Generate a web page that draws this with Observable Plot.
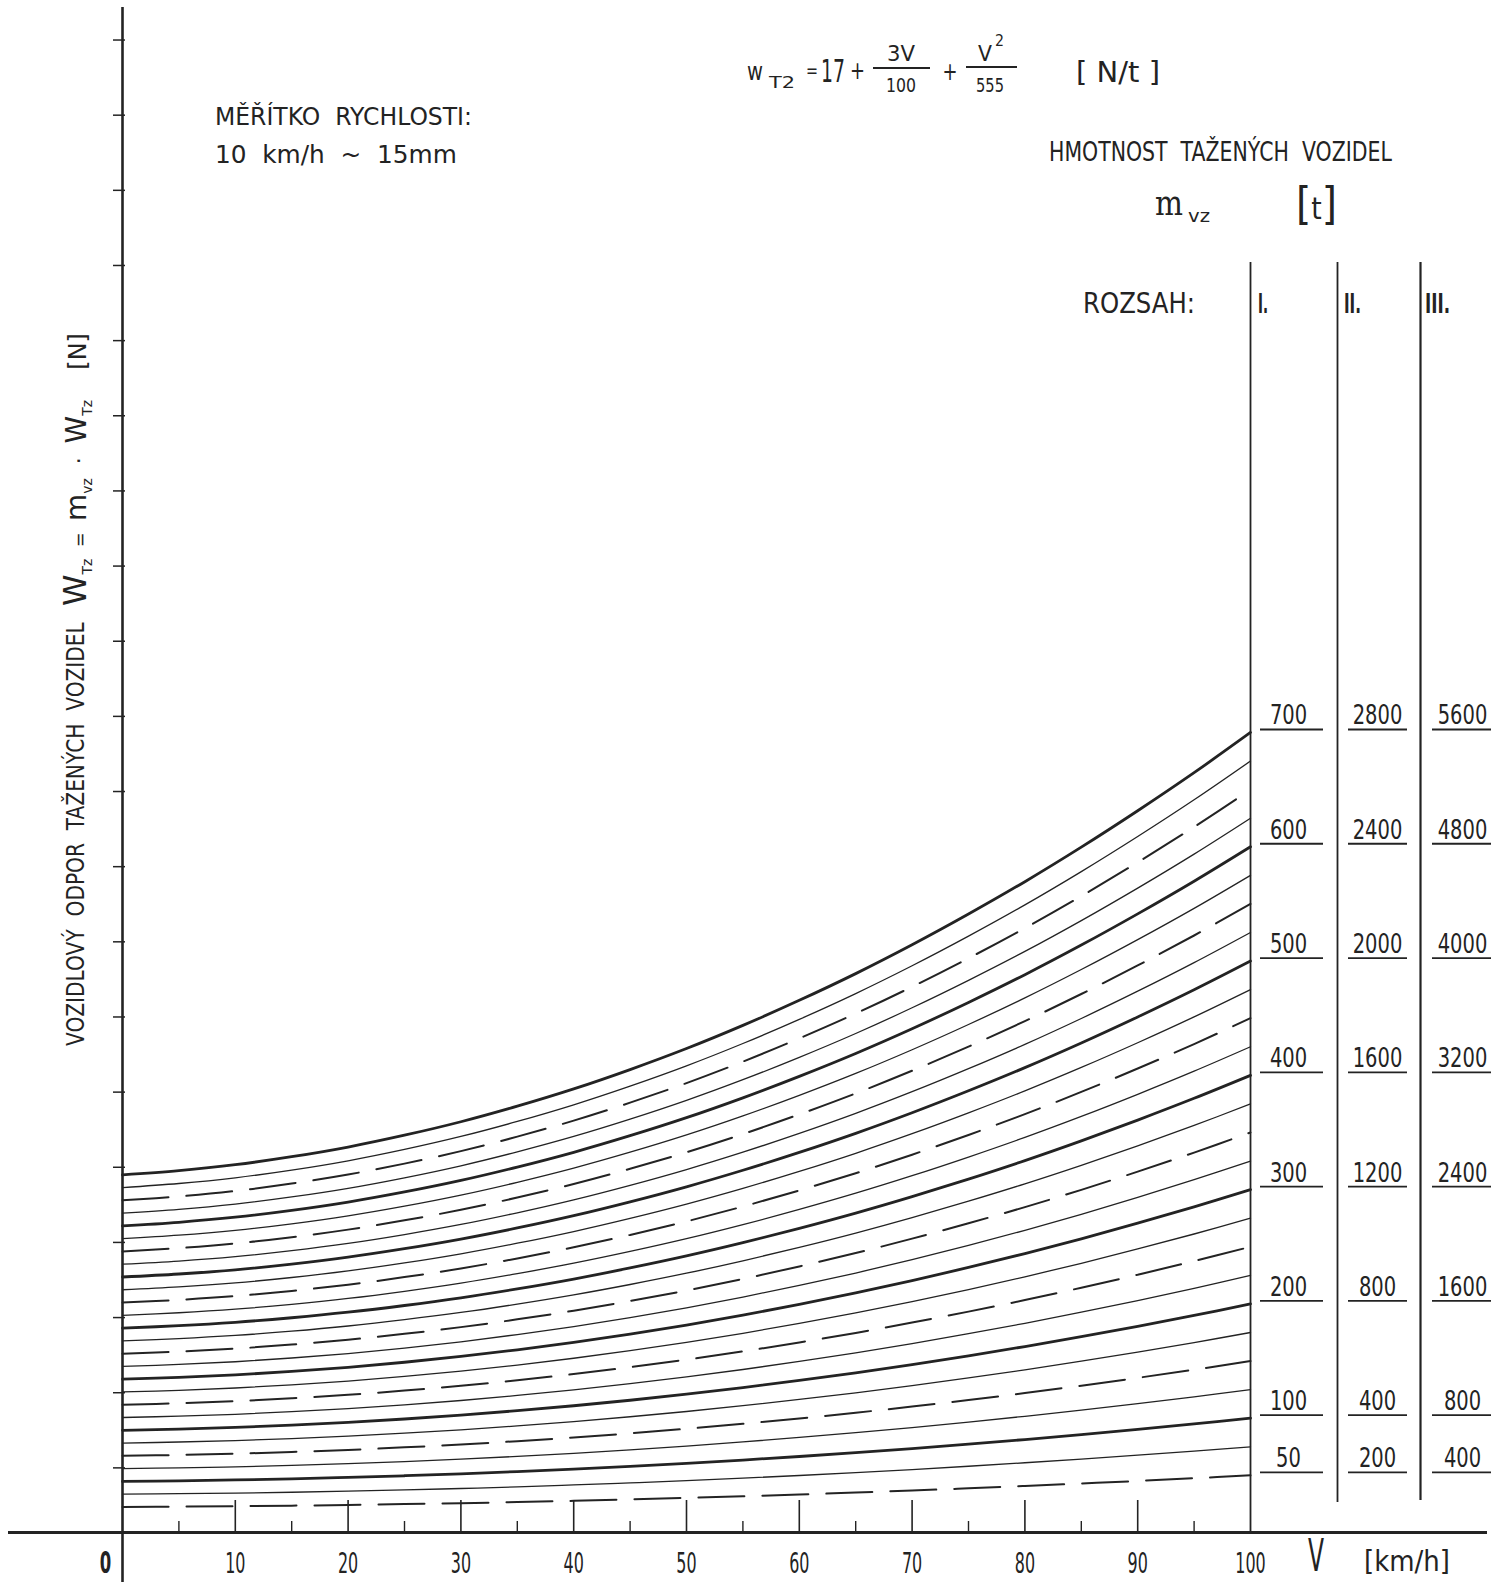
<!DOCTYPE html>
<html>
<head>
<meta charset="utf-8">
<script src="https://cdn.jsdelivr.net/npm/d3@7"></script>
<script src="https://cdn.jsdelivr.net/npm/@observablehq/plot@0.6"></script>
<style>
  html, body { margin: 0; padding: 0; background: #fff; }
  #chart { position: relative; width: 1495px; height: 1582px; overflow: hidden; }
  #chart svg text { font-family: "DejaVu Sans", "Liberation Sans", sans-serif; fill: #232323; white-space: pre; }
</style>
</head>
<body>
<div id="chart"></div>
<script>
// Speed V [km/h]
const speeds = [0, 5, 10, 15, 20, 25, 30, 35, 40, 45, 50, 55, 60, 65, 70, 75, 80, 85, 90, 95, 100];
// Specific resistance of hauled vehicles w_T2 [N/t] at each speed
const resistance = [17.00, 17.20, 17.48, 17.86, 18.32, 18.88, 19.52, 20.26, 21.08, 22.00, 23.00,
                    24.10, 25.29, 26.56, 27.93, 29.39, 30.93, 32.57, 34.30, 36.11, 38.02];
// Mass of the hauled vehicles for each curve [t] (range I)
const masses = [50, 75, 100, 125, 150, 175, 200, 225, 250, 275, 300, 325, 350, 375,
                400, 425, 450, 475, 500, 525, 550, 575, 600, 625, 650, 675, 700];
// Unlabelled marks on the resistance axis [N]
const forceTicks = [2150, 4650, 7150, 9650, 12150, 14650, 17150, 19650, 22150, 24650,
                    27150, 29650, 32150, 34650, 37150, 39650, 42150, 44650, 47150, 49650];
// Speed axis
const speedLabels = [10, 20, 30, 40, 50, 60, 70, 80, 90, 100];
const minorSpeedTicks = [5, 15, 25, 35, 45, 55, 65, 75, 85, 95];
// Mass scale labels for the three ranges [t]
const rangeI = [50, 100, 200, 300, 400, 500, 600, 700];
const rangeII = [200, 400, 800, 1200, 1600, 2000, 2400, 2800];
const rangeIII = [400, 800, 1600, 2400, 3200, 4000, 4800, 5600];
const rangeNames = ["I.", "II.", "III."];

const ink = "#232323";
const xEnd = speeds[speeds.length - 1];
const wEnd = resistance[resistance.length - 1];

// W = m · w for every curve and speed
const curves = masses.flatMap(m => speeds.map((V, i) => ({m, V, W: m * resistance[i]})));
const heavy = curves.filter(d => d.m % 100 === 0);
const dashed = curves.filter(d => d.m % 100 !== 0 && d.m % 50 === 0);
const light = curves.filter(d => d.m % 50 !== 0);

const rows = rangeI.map((m, i) => ({W: m * wEnd, I: rangeI[i], II: rangeII[i], III: rangeIII[i]}));

// frame: x from 122 to 1250 px, y from 0 to 1532 px
const frameLeft = 122, frameRight = 1250;
const columns = [
  {key: "I",   dx: 38,  ul: [1260, 1323]},
  {key: "II",  dx: 127, ul: [1348, 1407]},
  {key: "III", dx: 212, ul: [1432, 1491]}
];

const svg = Plot.plot({
  width: 1495,
  height: 1582,
  marginLeft: frameLeft,
  marginRight: 1495 - frameRight,
  marginTop: 0,
  marginBottom: 50,
  x: {domain: [0, 100], axis: null},
  y: {domain: [0, 50965], axis: null},
  style: {background: "#fff", color: ink, fontFamily: "DejaVu Sans"},
  marks: [
    // axes
    Plot.ruleY([0], {stroke: ink, strokeWidth: 3, insetLeft: -114, insetRight: -237}),
    Plot.ruleX([0], {stroke: ink, strokeWidth: 2.6, insetTop: 7, insetBottom: -50}),
    Plot.ruleX(speedLabels.slice(0, -1), {x: d => d, stroke: ink, strokeWidth: 1.6, insetTop: 1500}),
    Plot.ruleX(minorSpeedTicks, {x: d => d, stroke: ink, strokeWidth: 1.4, insetTop: 1521}),
    Plot.ruleY(forceTicks, {y: d => d, stroke: ink, strokeWidth: 1.5, insetLeft: -9, insetRight: frameRight - frameLeft - 3}),

    // resistance curves
    Plot.line(light, {x: "V", y: "W", z: "m", stroke: ink, strokeWidth: 1.3, curve: "catmull-rom"}),
    Plot.line(dashed, {x: "V", y: "W", z: "m", stroke: ink, strokeWidth: 2, strokeDasharray: "46,18", curve: "catmull-rom"}),
    Plot.line(heavy, {x: "V", y: "W", z: "m", stroke: ink, strokeWidth: 2.8, curve: "catmull-rom"}),

    // range columns
    Plot.ruleX([xEnd], {x: d => d, stroke: ink, strokeWidth: 1.8, insetTop: 262}),
    Plot.ruleX([xEnd], {x: d => d, dx: 87, stroke: ink, strokeWidth: 1.8, insetTop: 262, insetBottom: 30}),
    Plot.ruleX([xEnd], {x: d => d, dx: 170, stroke: ink, strokeWidth: 2.2, insetTop: 262, insetBottom: 32}),

    ...columns.map(c => Plot.ruleY(rows, {
      y: "W", dy: -3, stroke: ink, strokeWidth: 1.8,
      insetLeft: c.ul[0] - frameLeft, insetRight: frameRight - c.ul[1]
    })),
    ...columns.map(c => Plot.text(rows, {
      x: () => xEnd, y: "W", text: d => String(d[c.key]), dx: c.dx, dy: -8,
      lineAnchor: "bottom", fontSize: 26, fill: ink, ariaDescription: "mass labels"
    })),

    // speed labels
    Plot.text(speedLabels, {x: d => d, y: () => 0, text: d => String(d), dy: 40, lineAnchor: "bottom",
      fontSize: 29, fill: ink, ariaDescription: "speed labels"}),
    Plot.text([0], {x: d => d, y: () => 0, text: d => String(d), dx: -17, dy: 40, lineAnchor: "bottom",
      fontSize: 30, fontWeight: "bold", fill: ink, ariaDescription: "speed labels"})
  ]
});

document.getElementById("chart").append(svg);

// narrow technical lettering: squeeze each label horizontally about its own anchor
function condense(description, sx) {
  svg.querySelectorAll(`g[aria-description="${description}"] text`).forEach(t => {
    const x = t.getAttribute("x"), y = t.getAttribute("y");
    let tr = t.getAttribute("transform") || "";
    if (x !== null && !/em$/.test(x)) { tr = `translate(${x},0) ` + tr; t.removeAttribute("x"); }
    if (y !== null && !/em$/.test(y)) { tr = `translate(0,${y}) ` + tr; t.removeAttribute("y"); }
    t.setAttribute("transform", `${tr} scale(${sx},1)`);
  });
}
condense("mass labels", 0.75);
condense("speed labels", 0.55);

// annotations
const notes = d3.select(svg).append("g").attr("fill", ink);

function note(x, y, parts, {size = 24, width = null, anchor = "start", rotate = 0, family = null, weight = null} = {}) {
  const t = notes.append("text").attr("font-size", size).attr("text-anchor", anchor);
  if (family) t.style("font-family", family);
  if (weight) t.attr("font-weight", weight);
  if (typeof parts === "string") t.text(parts);
  else parts.forEach(([s, fs, dy]) => {
    const sp = t.append("tspan").text(s);
    if (fs) sp.attr("font-size", fs);
    if (dy) sp.attr("dy", dy);
  });
  const sx = width ? width / t.node().getComputedTextLength() : 1;
  t.attr("transform", `translate(${x},${y})${rotate ? ` rotate(${rotate})` : ""} scale(${sx},1)`);
  return t;
}
function bar(x1, x2, y) {
  notes.append("line").attr("x1", x1).attr("x2", x2).attr("y1", y).attr("y2", y)
    .attr("stroke", ink).attr("stroke-width", 1.8);
}

// formula for the specific resistance
note(747, 80, "w", {size: 24, width: 16});
note(769, 88, "T2", {size: 16, width: 26});
note(806, 77, "=", {size: 20, width: 12});
note(821, 82, "17", {size: 32, width: 24});
note(850, 79, "+", {size: 24, width: 15});
note(901, 61, "3V", {size: 22, width: 28, anchor: "middle"});
bar(873, 930, 68);
note(901, 92, "100", {size: 20, width: 30, anchor: "middle"});
note(950, 80, "+", {size: 24, width: 15, anchor: "middle"});
note(985, 61, "V", {size: 22, width: 14, anchor: "middle"});
note(995, 46, "2", {size: 16, width: 9});
bar(966, 1017, 67);
note(990, 92, "555", {size: 20, width: 28, anchor: "middle"});
note(1076, 82, "[ N/t ]", {size: 28, width: 84});

// speed scale note
note(215, 125, "MĚŘÍTKO  RYCHLOSTI:", {size: 25, width: 257});
note(215, 163, "10  km/h  ~  15mm", {size: 25, width: 242});

// mass header
note(1049, 161, "HMOTNOST  TAŽENÝCH  VOZIDEL", {size: 26, width: 343});
note(1155, 215, "m", {size: 36, width: 28, family: "DejaVu Serif"});
note(1188, 222, "vz", {size: 17, width: 22});
note(1296, 219, [["[", 44], ["t", 30], ["]", 44]], {size: 44, width: 41});
note(1083, 313, "ROZSAH:", {size: 28, width: 112});
[1258, 1344, 1425].forEach((x, i) =>
  note(x, 313, rangeNames[i], {size: 26, width: [10, 17, 25][i], weight: "bold"}));

// resistance axis title
note(84, 1046, "VOZIDLOVÝ  ODPOR  TAŽENÝCH  VOZIDEL", {size: 24, width: 424, rotate: -90});
note(86, 606, [["W", 32], ["Tz", 14, 6], ["  =  ", 18, -6], ["m", 28], ["vz", 14, 6], ["  ·  ", 22, -6],
               ["W", 28], ["Tz", 14, 6], ["    [N]", 24, -6]], {size: 24, width: 273, rotate: -90});

// speed axis title
note(1316, 1571, "V", {size: 44, width: 16, anchor: "middle"});
note(1364, 1571, "[km/h]", {size: 28, width: 86});
</script>
</body>
</html>
